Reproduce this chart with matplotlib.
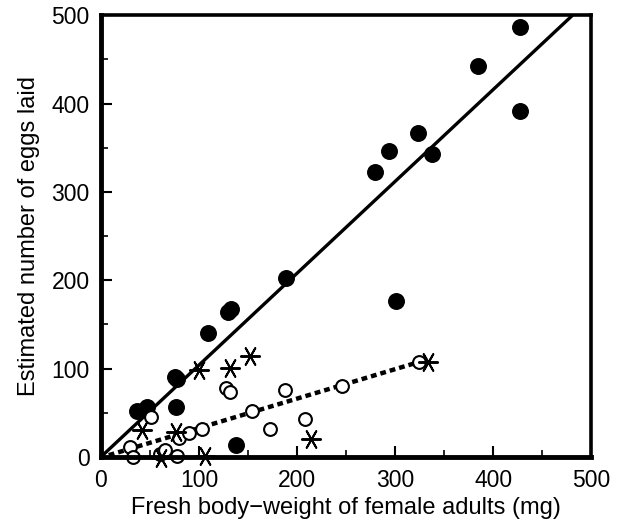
import matplotlib
matplotlib.use("Agg")
import matplotlib.pyplot as plt
from matplotlib.ticker import MultipleLocator

plt.rcParams['font.family'] = ['Liberation Sans', 'DejaVu Sans']

# Data
filled_x = [427, 385, 427, 323, 294, 338, 280, 301, 189, 130, 133, 109, 37, 47, 76, 78, 77, 138]
filled_y = [487, 443, 391, 367, 346, 343, 322, 176, 203, 164, 168, 140, 52, 56, 90, 88, 56, 14]

open_x = [128, 132, 188, 246, 154, 172, 208, 51, 80, 90, 103, 30, 33, 60, 65, 78, 324]
open_y = [78, 73, 76, 80, 52, 32, 43, 45, 21, 27, 32, 11, 0, 3, 8, 1, 107]

ast_x = [100, 132, 152, 42, 77, 214, 106, 61, 334]
ast_y = [98, 101, 114, 31, 28, 20, 1, -1, 108]

solid_fit_x = [0, 481]
solid_fit_y = [0, 500]
dotted_fit_x = [8, 332]
dotted_fit_y = [2, 110]

xticks = [0, 100, 200, 300, 400, 500]
yticks = [0, 100, 200, 300, 400, 500]

fig = plt.figure(figsize=(6.23, 5.24), dpi=100)
ax = fig.add_axes([0.162, 0.128, 0.787, 0.843])

ax.plot(solid_fit_x, solid_fit_y, color='black', lw=2.4, solid_capstyle='butt', zorder=2)
ax.plot(dotted_fit_x, dotted_fit_y, color='black', lw=3.2, dashes=(1.3, 0.9), zorder=2)

ax.scatter(filled_x, filled_y, s=125, color='black', zorder=3, clip_on=False)
ax.scatter(open_x, open_y, s=85, facecolor='white', edgecolor='black', linewidths=1.5,
           zorder=3, clip_on=False)
ax.scatter(ast_x, ast_y, s=190, marker=(6, 2, 30), color='black', linewidths=1.4,
           zorder=3, clip_on=False)

ax.set_xlim(0, 500)
ax.set_ylim(0, 500)
ax.set_xticks(xticks)
ax.set_yticks(yticks)
ax.xaxis.set_minor_locator(MultipleLocator(50))
ax.yaxis.set_minor_locator(MultipleLocator(50))
ax.tick_params(which='major', direction='in', length=8, width=1.5, labelsize=16.5,
               top=False, right=False)
ax.tick_params(axis='x', which='major', pad=9)
ax.tick_params(axis='y', which='major', pad=8)
ax.tick_params(which='minor', direction='in', length=5, width=1.2, top=False, right=False)

for side in ['left', 'bottom']:
    ax.spines[side].set_linewidth(3.5)
for side in ['top', 'right']:
    ax.spines[side].set_linewidth(2.6)
for sp in ax.spines.values():
    sp.set_zorder(4)

ax.set_xlabel('Fresh body\u2212weight of female adults (mg)', fontsize=17, labelpad=3)
ax.set_ylabel('Estimated number of eggs laid', fontsize=17, labelpad=8)

fig.savefig('out.png', dpi=100)
